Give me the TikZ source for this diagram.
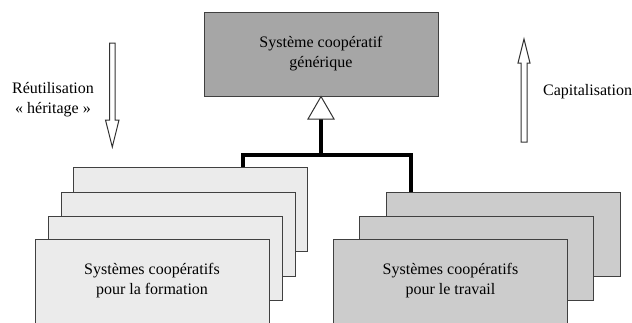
\documentclass[tikz,border=0pt]{standalone}
\usepackage{fontspec}
\setmainfont{Liberation Serif}
\begin{document}
\begin{tikzpicture}[x=1pt,y=-1pt,
  box/.style={draw=black!75, line width=1pt, minimum width=234pt, minimum height=84pt, inner sep=0pt, align=center, font=\fontsize{16}{20}\selectfont},
  genbox/.style={box, fill=black!35},
  formbox/.style={box, fill=black!8},
  travbox/.style={box, fill=black!20},
  conn/.style={line width=4pt, line join=miter},
  hollow/.style={draw=black!80, line width=1pt, fill=white, line join=miter},
  lbl/.style={inner sep=0pt, align=center, font=\fontsize{16}{20}\selectfont}]
\useasboundingbox (0,0) rectangle (632,322);
% generic box
\node[genbox] (gen) at (321,54) {\raisebox{-8pt}{\parbox{200pt}{\centering Système coopératif\\générique}}};
% left stack
\node[formbox] (L1) at (190,209) {};
\node[formbox] (L2) at (178,234) {};
\node[formbox] (L3) at (165,258) {};
\node[formbox] (L4) at (152,281) {\raisebox{-4pt}{\parbox{200pt}{\centering Systèmes coopératifs\\pour la formation}}};
% right stack
\node[travbox] (R1) at (503,234) {};
\node[travbox] (R2) at (476.5,258) {};
\node[travbox] (R3) at (450.5,281) {\raisebox{-4pt}{\parbox{200pt}{\centering Systèmes coopératifs\\pour le travail}}};
% connectors
\coordinate (tri) at (321,119);
\coordinate (jl) at (243,155);
\coordinate (jr) at (411,155);
\draw[conn] (tri) -- (tri |- jl);
\draw[conn] (jl |- L1.north) -- (jl) -- (jr) -- (jr |- R1.north);
\draw[hollow] (gen.south) -- (334,119) -- (308,119) -- cycle;
% hollow arrows
\draw[hollow] (109.5,43) -- (115,43) -- (115,120) -- (119,120) -- (112.3,147) -- (105.5,120) -- (109.5,120) -- cycle;
\draw[hollow] (521,142) -- (527,142) -- (527,63) -- (530,63) -- (524,39) -- (518,63) -- (521,63) -- cycle;
% labels
\node[lbl] (reu) at (53,100) {Réutilisation\\« héritage »};
\node[lbl, anchor=west] (cap) at (543,92) {Capitalisation};
\end{tikzpicture}
\end{document}
